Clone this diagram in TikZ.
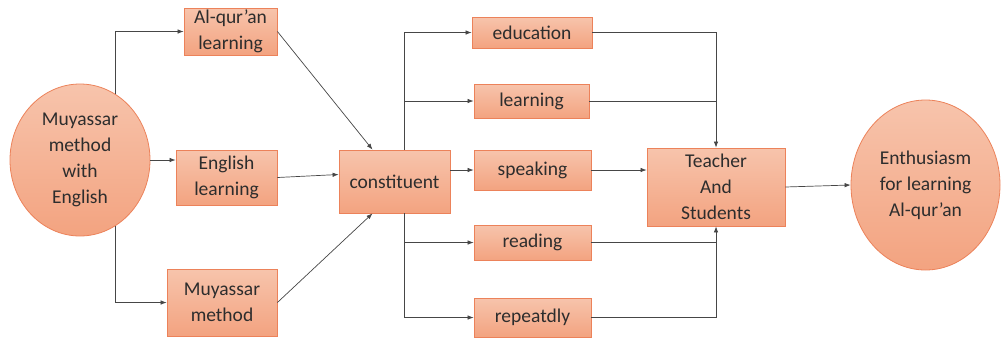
\documentclass[tikz,border=0pt]{standalone}
\usepackage{fontspec}
\setmainfont{Carlito}
\usetikzlibrary{arrows.meta,calc,shapes.geometric}
\definecolor{boxtop}{RGB}{247,196,172}
\definecolor{boxbot}{RGB}{243,163,128}
\definecolor{boxline}{RGB}{236,130,90}
\definecolor{txt}{RGB}{45,45,45}
\definecolor{ln}{RGB}{70,70,70}
\begin{document}
\begin{tikzpicture}[x=1pt,y=-1pt,
  every node/.style={font=\fontsize{19.5}{26}\selectfont, text=txt, align=center, inner sep=0pt},
  bx/.style={draw=boxline, line width=0.8pt, top color=boxtop, bottom color=boxbot, rectangle},
  circ/.style={draw=boxline, line width=0.8pt, top color=boxtop, bottom color=boxbot, ellipse},
  arr/.style={draw=ln, line width=0.7pt, -{Latex[length=6pt,width=4.5pt]}},
  ln/.style={draw=ln, line width=0.7pt}]
\useasboundingbox (0,0) rectangle (1004,338);
\node[circ, minimum width=140pt, minimum height=152pt] (lc) at (80,160) {Muyassar\\method\\with\\English};
\node[bx, minimum width=93pt, minimum height=47pt] (alq) at (230.5,31.5) {Al-qur’an\\learning};
\node[bx, minimum width=101pt, minimum height=55pt] (eng) at (226.5,177.5) {English\\learning};
\node[bx, minimum width=110pt, minimum height=67pt] (mm) at (222,302.5) {Muyassar\\method};
\node[bx, minimum width=111pt, minimum height=63pt] (con) at (394.5,181.5) {constituent};
\node[bx, minimum width=120pt, minimum height=31pt] (edu) at (532,32.5) {education};
\node[bx, minimum width=115pt, minimum height=34pt] (lrn) at (531.5,101) {learning};
\node[bx, minimum width=117pt, minimum height=40pt] (spk) at (532.5,170) {speaking};
\node[bx, minimum width=117pt, minimum height=35pt] (rd) at (532.5,242.5) {reading};
\node[bx, minimum width=117pt, minimum height=39pt] (rep) at (532.5,317.5) {repeatdly};
\node[bx, minimum width=138pt, minimum height=78pt] (ts) at (716,187) {Teacher\\And\\Students};
\node[circ, minimum width=149pt, minimum height=170pt] (rc) at (925.5,185) {Enthusiasm\\for learning\\Al-qur’an};
% left fan-out
\draw[arr] (lc.62) |- (alq.west);
\draw[arr] (lc.east) -- (lc.east -| eng.west);
\draw[arr] (lc.-62) |- (mm.west);
% into constituent
\draw[arr] (alq.east) -- ([xshift=-22pt]con.north);
\draw[arr] (eng.east) -- ([yshift=7pt]con.west);
\draw[arr] (mm.east) -- ([xshift=-22pt]con.south);
% constituent fan-out
\draw[arr] ([xshift=10pt]con.north) |- (edu.west);
\draw[arr] ([xshift=10pt]con.north) |- (lrn.west);
\draw[arr] (spk.west -| con.east) -- (spk.west);
\draw[arr] ([xshift=10pt]con.south) |- (rd.west);
\draw[arr] ([xshift=10pt]con.south) |- (rep.west);
% into Teacher and Students
\draw[arr] (edu.east) -| (ts.north);
\draw[ln] (lrn.east) -- (lrn.east -| ts.north);
\draw[arr] (spk.east) -- (spk.east -| ts.west);
\draw[ln] (rd.east) -- (rd.east -| ts.south);
\draw[arr] (rep.east) -| (ts.south);
\draw[arr] (ts.east) -- (rc.west);
\end{tikzpicture}
\end{document}
